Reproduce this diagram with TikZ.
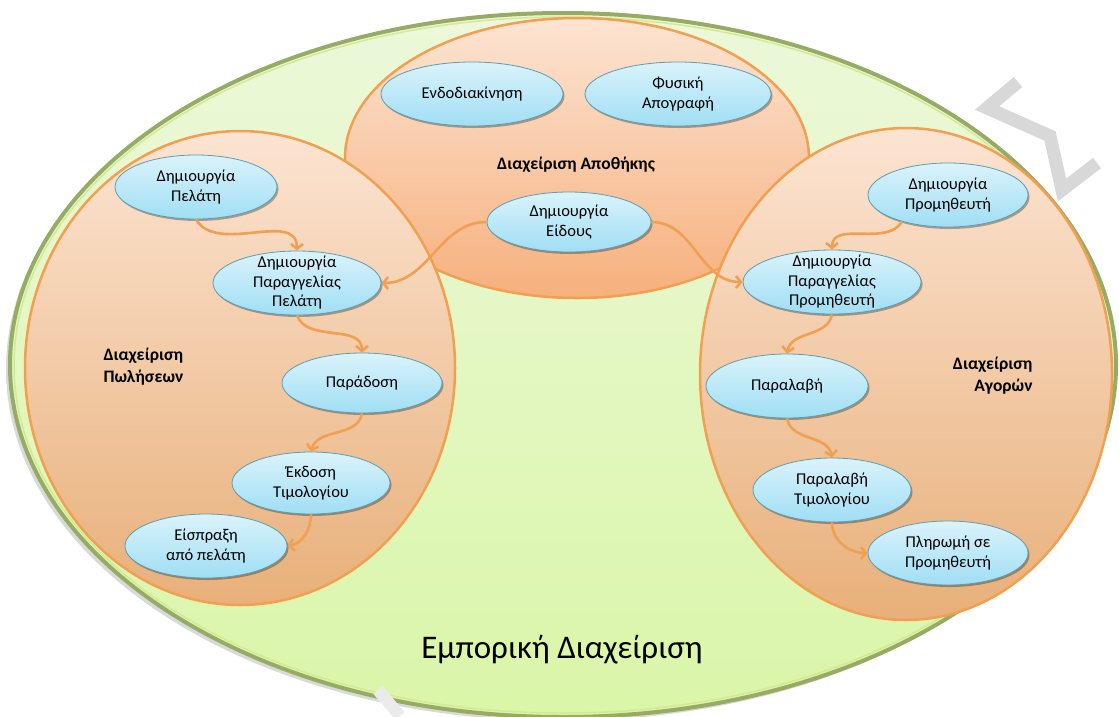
\documentclass[tikz,border=0pt]{standalone}
\usepackage{fontspec}
\setmainfont{Carlito}
\usepackage{tikz}
\usetikzlibrary{shapes.geometric}
\usetikzlibrary{shadows}
\usetikzlibrary{arrows.meta}
\usepackage{color}
\definecolor{limecream}{RGB}{236, 248, 218}
\definecolor{limedeep}{RGB}{218, 246, 168}
\definecolor{olivegrey}{RGB}{150, 172, 100}
\definecolor{olivelight}{RGB}{214, 232, 150}
\definecolor{peachlight}{RGB}{252, 228, 210}
\definecolor{peachdeep}{RGB}{232, 176, 122}
\definecolor{apricot}{RGB}{246, 176, 125}
\definecolor{carrot}{RGB}{240, 160, 80}
\definecolor{skylight}{RGB}{218, 243, 251}
\definecolor{skydeep}{RGB}{160, 222, 244}
\definecolor{steelteal}{RGB}{88, 158, 182}
\definecolor{mist}{RGB}{216, 216, 216}

\tikzset{
    task/.style={ellipse, draw=steelteal, line width=0.8pt, top color=skylight, bottom color=skydeep,
                 align=center, inner xsep=0pt, inner ysep=-8pt, minimum height=64pt,
                 font=\fontsize{16.5}{19.5}\selectfont,
                 drop shadow={shadow xshift=1.5pt, shadow yshift=-2pt, opacity=0.3, fill=black}},
    area/.style={font=\bfseries\fontsize{17.5}{22}\selectfont, align=center},
    flow/.style={draw=carrot, line width=2.6pt, -{Straight Barb[length=5pt, width=12pt]}}
}

\begin{document}
\begin{tikzpicture}[x=1pt, y=1pt]
            % Frame to ensure alignment:
            \useasboundingbox (0,0) rectangle (1119,-716);
            % Commercial management
            \fill[color=black, opacity=0.15]                                                   (559,-369) ellipse (553 and 352);
            \draw[color=olivegrey,  line width=4pt, top color=limecream,  bottom color=limedeep]  (563,-365) ellipse (553 and 352);
            \draw[color=olivelight, line width=1.5pt]                                          (563,-365) ellipse (549 and 348);
            % Warehouse
            \draw[color=carrot,     line width=2.5pt, top color=peachlight, bottom color=apricot]   (577,-158) ellipse (232 and 140);
            % Sales
            \draw[color=carrot,     line width=2.5pt, top color=peachlight, bottom color=peachdeep] (240,-368) ellipse (215 and 237);
            % Purchases
            \draw[color=carrot,     line width=2.5pt, top color=peachlight, bottom color=peachdeep] (906,-374) ellipse (206 and 246);

            % Warehouse tasks
            \node[task, minimum width=182pt]                      (endo)     at (472,-94)  {Ενδοδιακίνηση};
            \node[task, minimum width=186pt]                      (fysiki)   at (678,-94)  {Φυσική\\Απογραφή};
            \node[task, minimum width=164pt, minimum height=60pt] (eidos)    at (569,-222) {Δημιουργία\\Είδους};
            % Sales tasks
            \node[task, minimum width=162pt]                      (pelatis)  at (196,-187) {Δημιουργία\\Πελάτη};
            \node[task, minimum width=168pt]                      (parpel)   at (297,-283) {Δημιουργία\\Παραγγελίας\\Πελάτη};
            \node[task, minimum width=160pt, minimum height=60pt] (paradosi) at (362,-383) {Παράδοση};
            \node[task, minimum width=158pt, minimum height=62pt] (ekdosi)   at (311,-483) {Έκδοση\\Τιμολογίου};
            \node[task, minimum width=162pt]                      (eispraxi) at (206,-546) {Είσπραξη\\από πελάτη};
            % Purchase tasks
            \node[task, minimum width=160pt]                      (promith)  at (948,-195) {Δημιουργία\\Προμηθευτή};
            \node[task, minimum width=178pt]                      (parprom)  at (832,-282) {Δημιουργία\\Παραγγελίας\\Προμηθευτή};
            \node[task, minimum width=162pt]                      (paralavi) at (787,-386) {Παραλαβή};
            \node[task, minimum width=158pt]                      (partim)   at (832,-490) {Παραλαβή\\Τιμολογίου};
            \node[task, minimum width=160pt]                      (pliromi)  at (948,-553) {Πληρωμή σε\\Προμηθευτή};

            % Area labels
            \node[area]                           (apothiki) at (576,-165)  {Διαχείριση Αποθήκης};
            \node[area, align=left,  anchor=west] (poliseis) at (100,-367)  {Διαχείριση\\Πωλήσεων};
            \node[area, align=right, anchor=east] (agores)   at (1036,-376) {Διαχείριση\\Αγορών};
            \node[font=\fontsize{33}{40}\selectfont] (emporiki) at (562,-650) {Εμπορική Διαχείριση};

            % Item creation feeds both orders
            \draw[flow] (eidos.west)    to[out=180, in=0]   (parpel.east);
            \draw[flow] (eidos.east)    to[out=0,   in=180] (parprom.west);
            % Sales flow
            \draw[flow] (pelatis.south) to[out=-60, in=90]  (parpel.north);
            \draw[flow] (parpel.south)  to[out=-70, in=90]  (paradosi.north);
            \draw[flow] (paradosi.south) to[out=-100, in=75] (ekdosi.north);
            \draw[flow] (ekdosi.south)  to[out=-90, in=10]  (eispraxi.east);
            % Purchase flow
            \draw[flow] (promith.-150)  to[out=-120, in=90] (parprom.north);
            \draw[flow] (parprom.south) to[out=-100, in=80] (paralavi.north);
            \draw[flow] (paralavi.south) to[out=-80, in=100] (partim.north);
            \draw[flow] (partim.south)  to[out=-90, in=180] (pliromi.west);

            % Watermark strokes
            \draw[color=mist, line width=13pt, line join=miter] (1018,-82) -- (987,-108) -- (1050,-136) -- (1062,-190) -- (1097,-163);
            \draw[color=mist!50, line width=12pt]               (378,-690) -- (400,-716);
\end{tikzpicture}
\end{document}
